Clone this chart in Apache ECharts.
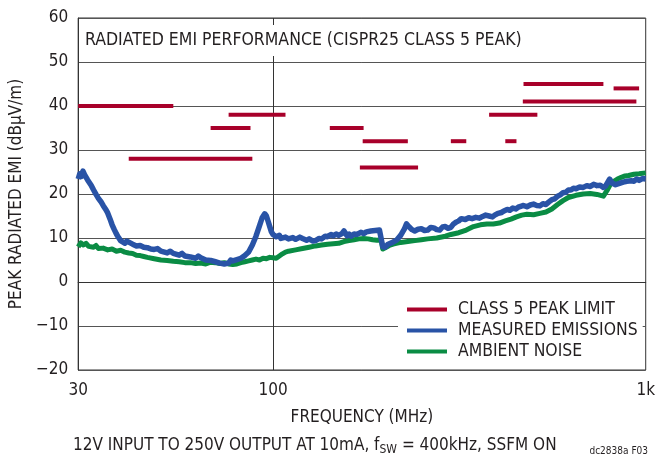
<!DOCTYPE html>
<html>
<head>
<meta charset="utf-8">
<script src="https://cdn.jsdelivr.net/npm/echarts@6/dist/echarts.min.js"></script>
<style>
html,body{margin:0;padding:0;background:#fff;}
#c{width:658px;height:456px;}
</style>
</head>
<body>
<div id="c"></div>
<script>
// ---- data ----
const xTickValues = [30, 100, 1000];
const xTickLabels = ['30', '100', '1k'];
const yTicks = [-20, -10, 0, 10, 20, 30, 40, 50, 60];

const limitStart = [30, 41, 68, 76, 142, 171, 174, 300, 380, 420, 468, 470, 820];
const limitEnd   = [54, 88, 87, 108, 175, 245, 230, 330, 512, 450, 944, 770, 960];
const limitLevel = [40, 28, 35, 38, 35, 26, 32, 32, 38, 32, 41, 45, 44];

const measured = [
[30,23.4],[30.3,24.6],[30.6,24.0],[30.9,25.2],[31.2,24.4],[31.5,24.0],[31.8,23.2],[32.1,22.8],[32.5,22.0],[33,20.9],[33.5,19.9],[34,19.0],[34.5,18.3],[35,17.4],[35.5,16.6],[36,15.7],[36.5,14.4],[37,13.0],[37.5,11.9],[38,10.9],[38.5,10.1],[39,9.4],[40,8.8],[40.5,9.3],[41,8.9],[42,8.6],[42.5,9.0],[43,8.2],[44,8.3],[45,7.9],[46,7.8],[47,7.5],[48,7.4],[49,7.6],[50,7.0],[52,6.6],[53,7.0],[54,6.5],[56,6.1],[57,6.5],[58,5.9],[60,5.7],[62,5.4],[63,5.9],[64,5.5],[66,5.0],[68,4.9],[70,4.6],[72,4.3],[74,4.1],[76,4.3],[77,5.0],[78,4.8],[80,5.1],[82,5.4],[84,6.0],[86,6.8],[88,8.4],[90,10.4],[92,12.8],[93.5,14.6],[95,15.5],[96,15.0],[97,13.8],[98,12.6],[99,11.4],[100,10.8],[102,10.3],[104,10.6],[105,9.9],[108,10.2],[110,9.8],[113,10.1],[115,9.7],[118,10.2],[120,9.9],[123,9.5],[125,9.8],[128,9.3],[130,9.4],[133,9.9],[135,9.8],[138,10.4],[140,10.3],[143,10.8],[145,10.5],[148,10.9],[150,10.6],[153,11.0],[155,11.6],[158,10.5],[160,10.9],[162,10.4],[165,10.9],[168,10.8],[172,11.3],[175,11.0],[178,11.4],[180,11.1],[183,11.6],[185,11.3],[188,11.7],[190,11.4],[193,11.8],[195,11.6],[197,8.0],[200,7.9],[203,8.5],[205,8.4],[208,8.9],[210,8.9],[215,9.6],[220,10.6],[225,12.0],[228,13.2],[230,12.8],[232,12.5],[236,11.9],[238,12.3],[240,11.6],[245,12.0],[250,12.1],[255,11.7],[260,11.8],[265,12.4],[270,12.3],[275,11.9],[280,11.8],[285,12.5],[290,12.6],[295,12.2],[300,12.4],[305,13.2],[310,13.6],[315,13.9],[320,14.4],[328,14.2],[335,14.6],[342,14.4],[350,14.7],[358,14.5],[365,14.9],[372,15.2],[380,15.0],[388,14.8],[395,15.3],[402,15.6],[410,15.8],[418,16.2],[425,16.5],[432,16.3],[440,16.8],[448,16.6],[455,17.0],[462,17.2],[470,17.4],[480,17.1],[490,17.5],[500,17.7],[510,17.4],[520,17.3],[530,17.8],[540,17.6],[550,18.2],[560,18.7],[570,18.9],[580,19.5],[590,19.8],[600,20.3],[610,20.4],[620,20.9],[630,20.9],[640,21.3],[650,21.2],[665,21.6],[680,21.5],[695,21.9],[710,21.7],[725,22.2],[740,21.9],[755,22.0],[770,21.5],[780,21.8],[790,22.6],[800,23.4],[805,23.3],[812,22.5],[820,22.7],[830,22.1],[840,21.9],[850,22.4],[860,22.2],[870,22.7],[880,22.4],[890,22.9],[900,22.6],[915,23.0],[930,22.9],[945,23.4],[960,23.1],[980,23.5],[1000,23.4]
];

const ambient = [
[30,8.0],[30.5,8.9],[31,8.4],[31.5,8.8],[32,8.1],[33,7.9],[33.5,8.3],[34,7.6],[35,7.7],[36,7.3],[37,7.5],[38,7.0],[39,7.2],[40,6.8],[41,6.6],[42,6.5],[43,6.1],[44,6.0],[45,5.8],[46,5.6],[48,5.3],[50,5.0],[52,4.9],[54,4.7],[56,4.6],[58,4.4],[60,4.4],[62,4.2],[64,4.3],[66,4.1],[68,4.5],[70,4.4],[72,4.2],[74,4.4],[76,4.1],[78,4.0],[80,4.1],[82,4.4],[84,4.6],[86,4.8],[88,5.0],[90,5.2],[92,5.0],[94,5.4],[96,5.3],[98,5.6],[100,5.5],[102,5.4],[104,5.9],[106,6.4],[108,6.8],[110,7.0],[115,7.3],[120,7.6],[125,7.9],[130,8.2],[135,8.4],[140,8.6],[145,8.7],[150,8.8],[155,9.2],[160,9.4],[165,9.6],[170,9.8],[175,9.9],[180,9.8],[185,9.6],[190,9.5],[195,9.6],[197,7.5],[200,7.8],[205,8.3],[210,8.6],[220,9.0],[230,9.2],[240,9.4],[250,9.6],[260,9.8],[275,10.0],[290,10.4],[300,10.8],[315,11.2],[330,11.8],[345,12.6],[360,13.0],[375,13.2],[390,13.2],[405,13.4],[420,13.9],[435,14.3],[450,14.8],[465,15.2],[480,15.4],[500,15.3],[520,15.6],[540,15.9],[560,16.6],[580,17.6],[600,18.5],[620,19.2],[650,19.7],[680,20.0],[710,20.1],[740,19.9],[770,19.5],[790,21.0],[805,22.3],[820,22.8],[840,23.4],[860,23.8],[880,24.1],[900,24.2],[930,24.5],[960,24.6],[1000,24.8]
];

// ---- styles ----
const FONT = '"Liberation Sans Narrow", "DejaVu Sans Condensed", sans-serif';
const TXT = '#231f20';
const RED = '#a8002a';
const BLUE = '#2953a6';
const GREEN = '#0a8c44';

const series = [];
for (let i = 0; i < limitStart.length; i++) {
  series.push({
    name: 'CLASS 5 PEAK LIMIT',
    type: 'line',
    data: [[limitStart[i], limitLevel[i]], [limitEnd[i], limitLevel[i]]],
    showSymbol: false,
    symbol: 'none',
    silent: true,
    z: 3,
    lineStyle: { color: RED, width: 4, cap: 'butt' },
    itemStyle: { color: RED },
    markLine: i === 0 ? {
      silent: true,
      symbol: 'none',
      label: { show: false },
      lineStyle: { color: '#333', width: 1, type: 'solid' },
      data: [{ xAxis: 100 }],
      z: 1
    } : undefined
  });
}
series.push({
  name: 'AMBIENT NOISE',
  type: 'line',
  data: ambient,
  showSymbol: false,
  symbol: 'none',
  silent: true,
  z: 3,
  lineStyle: { color: GREEN, width: 5, join: 'round' },
  itemStyle: { color: GREEN }
});
series.push({
  name: 'MEASURED EMISSIONS',
  type: 'line',
  data: measured,
  showSymbol: false,
  symbol: 'none',
  silent: true,
  z: 4,
  lineStyle: { color: BLUE, width: 5.5, join: 'round' },
  itemStyle: { color: BLUE }
});

const chart = echarts.init(document.getElementById('c'), null, { renderer: 'canvas' });
chart.setOption({
  animation: false,
  backgroundColor: '#fff',
  textStyle: { fontFamily: FONT, color: TXT },
  title: {
    text: 'RADIATED EMI PERFORMANCE (CISPR25 CLASS 5 PEAK)',
    left: 79,
    top: 25,
    padding: [6, 6],
    backgroundColor: '#fff',
    textStyle: { fontFamily: FONT, fontSize: 17.5, fontWeight: 'normal', color: TXT, lineHeight: 19 }
  },
  legend: {
    data: ['CLASS 5 PEAK LIMIT', 'MEASURED EMISSIONS', 'AMBIENT NOISE'],
    orient: 'vertical',
    left: 398,
    top: 295,
    padding: [4, 5, 4, 9],
    backgroundColor: '#fff',
    itemWidth: 40,
    itemHeight: 4,
    itemGap: 0,
    icon: 'rect',
    selectedMode: false,
    textStyle: { fontFamily: FONT, fontSize: 17.4, color: TXT, lineHeight: 21, padding: [0, 0, 0, 6] }
  },
  grid: {
    left: 73, right: 9, top: 18, bottom: 86,
    show: true, borderColor: '#333', borderWidth: 1, backgroundColor: 'transparent'
  },
  xAxis: {
    type: 'log',
    logBase: 10,
    min: 30,
    max: 1000,
    name: 'FREQUENCY (MHz)',
    nameLocation: 'middle',
    nameGap: 39,
    nameTextStyle: { fontFamily: FONT, fontSize: 17, color: TXT },
    axisLine: { show: true, lineStyle: { color: '#333', width: 1 } },
    axisTick: { show: false },
    splitLine: { show: false },
    minorSplitLine: { show: false },
    axisLabel: {
      customValues: xTickValues,
      formatter: function (v) {
        const idx = xTickValues.findIndex(t => Math.abs(t - v) < 1e-6 * t);
        return idx >= 0 ? xTickLabels[idx] : '';
      },
      fontFamily: FONT, fontSize: 17, color: TXT, margin: 12,
      showMinLabel: true, showMaxLabel: true
    }
  },
  yAxis: {
    type: 'value',
    min: yTicks[0],
    max: yTicks[yTicks.length - 1],
    interval: 10,
    name: 'PEAK RADIATED EMI (dBµV/m)',
    nameLocation: 'middle',
    nameGap: 44,
    nameTextStyle: { fontFamily: FONT, fontSize: 17, color: TXT },
    axisLine: { show: true, lineStyle: { color: '#333', width: 1 } },
    axisTick: { show: false },
    splitLine: { show: true, lineStyle: { color: '#555', width: 1 } },
    axisLabel: {
      formatter: function (v) { return v < 0 ? '\u2212' + Math.abs(v) : String(v); },
      fontFamily: FONT, fontSize: 17, color: TXT, margin: 10
    }
  },
  graphic: [
    {
      type: 'text',
      left: 73,
      top: 436,
      style: {
        text: '{a|12V INPUT TO 250V OUTPUT AT 10mA, f}{s|SW}{a| = 400kHz, SSFM ON}',
        rich: {
          a: { fontFamily: FONT, fontSize: 17, fill: TXT, color: TXT, lineHeight: 20 },
          s: { fontFamily: FONT, fontSize: 12, fill: TXT, color: TXT, lineHeight: 20, padding: [8, 0, 0, 0] }
        }
      }
    },
    {
      type: 'text',
      right: 10,
      top: 446,
      style: { text: 'dc2838a F03', fontFamily: FONT, fontSize: 10, fill: TXT }
    }
  ],
  series: series
});
</script>
</body>
</html>
